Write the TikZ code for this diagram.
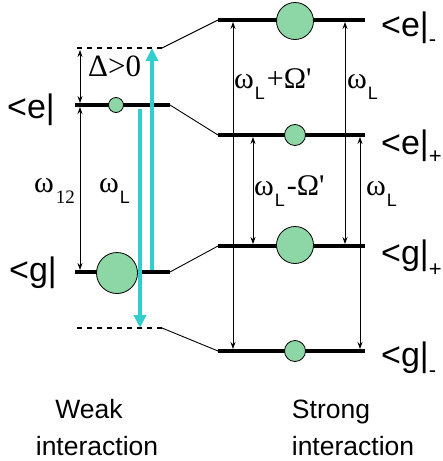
\documentclass[tikz,border=0pt]{standalone}
\usepackage{fontspec}
\setmainfont{Liberation Sans}
\newfontfamily\tms{Liberation Serif}
\usetikzlibrary{arrows.meta}
\definecolor{popfill}{RGB}{140,215,165}
\definecolor{laser}{RGB}{50,205,205}
\newcommand{\om}{{\tms\fontsize{30}{30}\selectfont ω}}
\newcommand{\subL}{\kern1pt\raisebox{-11pt}{\fontsize{18}{18}\selectfont L}}
\newcommand{\bigst}[1]{\fontsize{34}{34}\selectfont #1}
\begin{document}
\begin{tikzpicture}[x=1pt,y=-1pt,
  level/.style={line width=4.5pt},
  dlevel/.style={line width=1.3pt, dash pattern=on 5pt off 5pt},
  link/.style={line width=0.9pt},
  pop/.style={circle, draw=black, line width=0.8pt, fill=popfill, inner sep=0pt},
  dbl/.style={line width=0.8pt, {Stealth[length=7pt,width=5pt]}-{Stealth[length=7pt,width=5pt]}, shorten >=2pt, shorten <=2pt},
  laserarr/.style={line width=3.8pt, draw=laser, -{Triangle[length=13pt,width=12pt]}},
  lab/.style={anchor=base west, inner sep=0pt},
  bot/.style={anchor=base, inner sep=0pt, font=\fontsize{26.5}{26.5}\selectfont}]
\useasboundingbox (0,0) rectangle (443,461);
% level end points
\coordinate (tdL) at (77,48);  \coordinate (tdR) at (162,48);
\coordinate (eL) at (75,105);  \coordinate (eR) at (170,105);
\coordinate (gL) at (75,272);  \coordinate (gR) at (170,272);
\coordinate (bdL) at (77,328); \coordinate (bdR) at (162,328);
\coordinate (emL) at (218,20);  \coordinate (emR) at (365,20);
\coordinate (epL) at (218,135); \coordinate (epR) at (365,135);
\coordinate (gpL) at (218,246); \coordinate (gpR) at (365,246);
\coordinate (gmL) at (218,351); \coordinate (gmR) at (365,351);
% levels
\draw[dlevel] (tdL) -- (tdR);
\draw[dlevel] (bdL) -- (bdR);
\draw[level] (eL) -- (eR);
\draw[level] (gL) -- (gR);
\draw[level] (emL) -- (emR);
\draw[level] (epL) -- (epR);
\draw[level] (gpL) -- (gpR);
\draw[level] (gmL) -- (gmR);
% links
\draw[link] (tdR) -- (emL);
\draw[link] (eR) -- (epL);
\draw[link] (gR) -- (gpL);
\draw[link] (bdR) -- (gmL);
% populations
\node[pop, minimum size=15pt] (pe) at (116,105) {};
\node[pop, minimum size=41pt] (pg) at (117,273) {};
\node[pop, minimum size=37pt] (pem) at (295,21) {};
\node[pop, minimum size=21pt] (pep) at (295,135) {};
\node[pop, minimum size=37pt] (pgp) at (295,245) {};
\node[pop, minimum size=21pt] (pgm) at (295,351) {};
% arrow end points
\coordinate (d1) at (80,48); \coordinate (d2) at (80,105); \coordinate (d3) at (80,272);
\coordinate (r1t) at (233,20);  \coordinate (r1b) at (233,351);
\coordinate (r2t) at (345,20);  \coordinate (r2b) at (345,246);
\coordinate (r3t) at (253,135); \coordinate (r3b) at (253,246);
\coordinate (r4t) at (360,135); \coordinate (r4b) at (360,351);
\coordinate (c1s) at (152,270); \coordinate (c1e) at (152,48);
\coordinate (c2s) at (140,109); \coordinate (c2e) at (140,328);
% black arrows
\draw[dbl] (d1) -- (d2);
\draw[dbl] (d2) -- (d3);
\draw[dbl] (r1t) -- (r1b);
\draw[dbl] (r2t) -- (r2b);
\draw[dbl] (r3t) -- (r3b);
\draw[dbl] (r4t) -- (r4b);
% laser arrows
\draw[laserarr] (c1s) -- (c1e);
\draw[laserarr] (c2s) -- (c2e);
% omega labels
\node[lab] (w12) at (34,192) {\om\kern2pt\raisebox{-11pt}{\tms\fontsize{19}{19}\selectfont 12}};
\node[lab] (wLl) at (99,192) {\om\subL};
\node[lab] (delta) at (88,76) {\tms\fontsize{31}{31}\selectfont Δ>0};
\node[lab] (wp) at (234,88) {\om\subL\kern2pt{\tms\fontsize{30}{30}\selectfont +Ω'}};
\node[lab] (wr1) at (347,88) {\om\subL};
\node[lab] (wm) at (254,195) {\om\subL\kern2pt{\tms\fontsize{30}{30}\selectfont -Ω'}};
\node[lab] (wr2) at (366,195) {\om\subL};
% state labels
\node[lab] (le) at (7,118) {\bigst{<e|}};
\node[lab] (lg) at (9,281) {\bigst{<g|}};
\node[lab] (lem) at (381,36) {\bigst{<e|}\raisebox{-10pt}{\fontsize{22}{22}\selectfont -}};
\node[lab] (lep) at (381,154) {\bigst{<e|}\raisebox{-9pt}{\fontsize{22}{22}\selectfont +}};
\node[lab] (lgp) at (381,264) {\bigst{<g|}\raisebox{-12pt}{\fontsize{22}{22}\selectfont +}};
\node[lab] (lgm) at (381,366) {\bigst{<g|}\raisebox{-11pt}{\fontsize{22}{22}\selectfont -}};
% bottom captions
\node[bot] (weak) at (89,418) {Weak};
\node[bot] (inter1) at (97,455) {interaction};
\node[bot] (strong) at (331,418) {Strong};
\node[bot] (inter2) at (353,455) {interaction};
\end{tikzpicture}
\end{document}
